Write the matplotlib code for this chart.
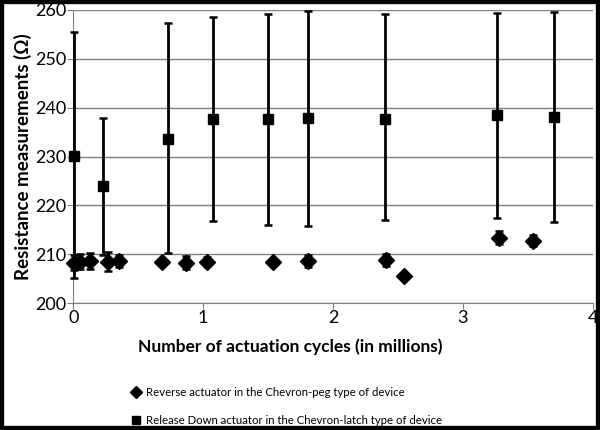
import matplotlib
matplotlib.use("Agg")
import matplotlib.pyplot as plt
from matplotlib.lines import Line2D
from matplotlib.patches import Rectangle

plt.rcParams['font.family'] = ['Lato', 'DejaVu Sans']

# Reverse actuator (Chevron-peg) - diamonds
peg_x = [0.01, 0.05, 0.13, 0.27, 0.35, 0.68, 0.87, 1.03, 1.54, 1.81, 2.41, 2.55, 3.28, 3.54]
peg_y = [208.3, 208.5, 208.6, 208.5, 208.6, 208.4, 208.3, 208.5, 208.4, 208.6, 208.9, 205.5, 213.4, 212.8]
peg_err = [1.5, 1.5, 1.6, 2.0, 1.3, 0.0, 1.3, 1.0, 0.0, 1.2, 1.2, 0.0, 1.4, 1.1]

# Release Down actuator (Chevron-latch) - squares
latch_x = [0.01, 0.23, 0.73, 1.08, 1.50, 1.81, 2.40, 3.26, 3.70]
latch_y = [230.2, 223.9, 233.6, 237.6, 237.6, 237.9, 237.7, 238.4, 238.1]
latch_top = [255.4, 237.9, 257.3, 258.6, 259.1, 259.8, 259.2, 259.4, 259.6]
latch_bot = [205.1, 209.9, 210.3, 216.9, 215.9, 215.7, 217.1, 217.5, 216.6]

x_ticks = [0, 1, 2, 3, 4]
y_ticks = [200, 210, 220, 230, 240, 250, 260]

fig = plt.figure(figsize=(6.0, 4.3), dpi=100)
ax = fig.add_axes([0.122, 0.295, 0.866, 0.682])

lo = [y - b for y, b in zip(latch_y, latch_bot)]
hi = [t - y for y, t in zip(latch_y, latch_top)]
eb1 = ax.errorbar(latch_x, latch_y, yerr=[lo, hi], fmt='s', color='black',
                  markersize=7, elinewidth=2, capsize=3, capthick=1.8, zorder=3)
eb2 = ax.errorbar(peg_x, peg_y, yerr=peg_err, fmt='D', color='black',
                  markersize=8, elinewidth=2, capsize=3, capthick=1.8, zorder=4)
for eb in (eb1, eb2):
    for art in eb.get_children():
        art.set_clip_on(False)

ax.set_xlim(0, 4)
ax.set_ylim(200, 260)
ax.set_xticks(x_ticks)
ax.set_yticks(y_ticks)
ax.yaxis.grid(True, color='#808080', linewidth=1)
ax.set_axisbelow(True)
for s in ['top', 'right']:
    ax.spines[s].set_visible(False)
for s in ['left', 'bottom']:
    ax.spines[s].set_color('#808080')
ax.tick_params(axis='both', colors='#808080', labelcolor='black', labelsize=13,
               length=4, pad=1)
ax.set_xlabel('Number of actuation cycles (in millions)', fontsize=12.5,
              fontweight='bold')
ax.xaxis.set_label_coords(0.417, -0.12)
ax.set_ylabel('Resistance measurements (Ω)', fontsize=13.5, fontweight='bold',
              labelpad=2)

h1 = Line2D([], [], marker='D', color='black', linestyle='none', markersize=6)
h2 = Line2D([], [], marker='s', color='black', linestyle='none', markersize=6)
fig.legend([h1, h2],
           ['Reverse actuator in the Chevron-peg type of device',
            'Release Down actuator in the Chevron-latch type of device'],
           loc='upper left', bbox_to_anchor=(0.207, 0.113), frameon=False,
           fontsize=8.2, labelspacing=1.45, handletextpad=0.4, handlelength=1.0,
           borderpad=0)

fig.patches.append(Rectangle((0, 0), 1, 1, transform=fig.transFigure,
                             fill=False, edgecolor='black', linewidth=6))

fig.savefig('out.png', dpi=100)
